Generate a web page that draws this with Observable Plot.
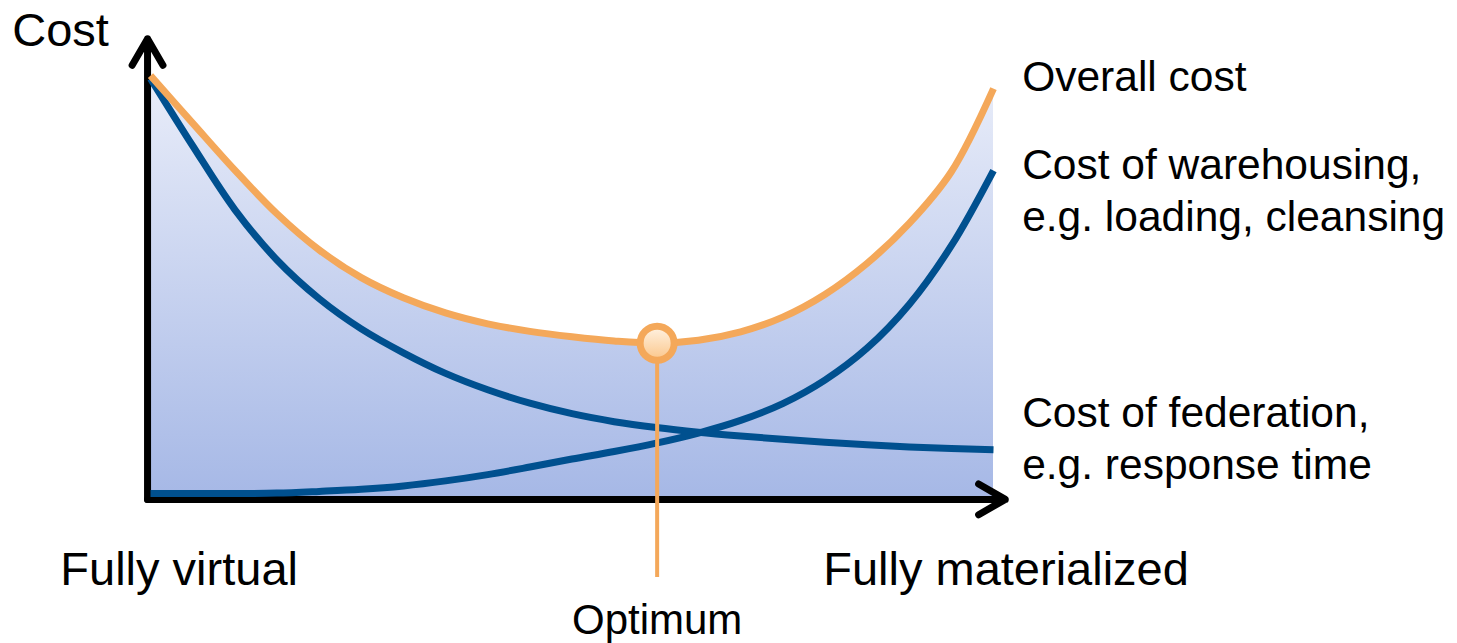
<!DOCTYPE html>
<html>
<head>
<meta charset="utf-8">
<script src="https://cdn.jsdelivr.net/npm/d3@7"></script>
<script src="https://cdn.jsdelivr.net/npm/@observablehq/plot@0.6"></script>
<style>
  html, body { margin: 0; padding: 0; background: #fff; }
  svg { display: block; }
</style>
</head>
<body>
<div id="chart"></div>
<script>
// Degree of materialization (0 = fully virtual, 100 = fully materialized)
const materialization = [0, 5, 10, 15, 20, 25, 30, 35, 40, 45, 50, 55, 60, 65, 70, 75, 80, 85, 90, 95, 100];
// Cost series (arbitrary units)
const overallCost     = [99.5, 88.2, 77.0, 66.6, 58.0, 51.4, 46.6, 43.0, 40.4, 38.6, 37.3, 36.3, 35.8, 36.5, 38.5, 42.0, 47.4, 54.8, 64.3, 76.6, 96.4];
const federationCost  = [98.8, 82.8, 67.6, 55.6, 46.4, 39.2, 33.5, 28.6, 24.7, 21.5, 19.0, 17.1, 15.7, 14.6, 13.7, 12.9, 12.2, 11.6, 11.1, 10.7, 10.4];
const warehousingCost = [0.0, 0.0, 0.0, 0.1, 0.5, 1.0, 1.8, 3.0, 4.5, 6.3, 8.2, 10.0, 12.0, 14.4, 17.4, 21.4, 27.0, 34.6, 45.0, 59.0, 76.9];

// Optimum point
const optimumX = [60.1];
const optimumY = [35.8];
const optimumDrop = [-20];

// Axes (arrow endpoints in data units)
const axisX1 = [-0.35, -0.35];
const axisY1 = [-1.4, -1.4];
const axisX2 = [-0.35, 101.4];
const axisY2 = [108.3, -1.4];

// Labels
const labelText = ["Cost", "Overall cost", "Cost of warehousing,", "e.g. loading, cleansing",
                   "Cost of federation,", "e.g. response time", "Fully virtual", "Fully materialized"];
const labelX = [-16.4, 103.4, 103.4, 103.4, 103.4, 103.4, -10.7, 79.8];
const labelY = [110.2, 99.0, 78.1, 65.7, 19.0, 6.7, -18.3, -18.3];
const labelSize = [47, 42.5, 42.5, 42.5, 42.5, 42.5, 47, 47];
const optimumLabel = ["Optimum"];
const optimumLabelY = [-30.2];

const rows = materialization.map((x, i) => ({
  x, overall: overallCost[i], federation: federationCost[i], warehousing: warehousingCost[i]
}));
const axes = axisX1.map((d, i) => ({x1: axisX1[i], y1: axisY1[i], x2: axisX2[i], y2: axisY2[i]}));
const labels = labelText.map((t, i) => ({t, x: labelX[i], y: labelY[i], s: labelSize[i]}));
const opt = [{x: optimumX[0], y: optimumY[0], yb: optimumDrop[0], label: optimumLabel[0], ly: optimumLabelY[0]}];

const defs = () => {
  const g = d3.create("svg:defs");
  const a = g.append("linearGradient").attr("id", "areaGrad").attr("x1", 0).attr("y1", 0).attr("x2", 0).attr("y2", 1);
  a.append("stop").attr("offset", "0%").attr("stop-color", "#e9edf9");
  a.append("stop").attr("offset", "100%").attr("stop-color", "#a6b8e6");
  const o = g.append("linearGradient").attr("id", "optGrad").attr("x1", 0).attr("y1", 0).attr("x2", 0).attr("y2", 1);
  o.append("stop").attr("offset", "0%").attr("stop-color", "#fff3e4");
  o.append("stop").attr("offset", "100%").attr("stop-color", "#fbc68a");
  return g.node();
};

const orange = "#f4a85a";
const blue = "#00508f";

const chart = Plot.plot({
  width: 1457,
  height: 643,
  margin: 0,
  x: {domain: [0, 100], range: [150, 993], axis: null},
  y: {domain: [0, 100], range: [493, 73], axis: null},
  style: {fontFamily: "'Liberation Sans', Arial, sans-serif", background: "white"},
  marks: [
    defs,
    Plot.areaY(rows, {x: "x", y1: -1, y2: "overall", curve: "catmull-rom", fill: "url(#areaGrad)"}),
    Plot.arrow(axes, {x1: "x1", y1: "y1", x2: "x2", y2: "y2", stroke: "black", strokeWidth: 7, headLength: 6.6, headAngle: 60}),
    Plot.line(rows, {x: "x", y: "warehousing", curve: "catmull-rom", stroke: blue, strokeWidth: 7, strokeLinecap: "butt"}),
    Plot.line(rows, {x: "x", y: "federation", curve: "catmull-rom", stroke: blue, strokeWidth: 7, strokeLinecap: "butt"}),
    Plot.line(rows, {x: "x", y: "overall", curve: "catmull-rom", stroke: orange, strokeWidth: 7, strokeLinecap: "butt"}),
    Plot.ruleX(opt, {x: "x", y1: "y", y2: "yb", stroke: orange, strokeWidth: 4}),
    Plot.dot(opt, {x: "x", y: "y", r: 17, stroke: orange, strokeWidth: 7, fill: "url(#optGrad)"}),
    Plot.text(labels, {x: "x", y: "y", text: "t", fontSize: "s", textAnchor: "start", fill: "black"}),
    Plot.text(opt, {x: "x", y: "ly", text: "label", fontSize: 42, textAnchor: "middle", fill: "black"})
  ]
});
document.getElementById("chart").appendChild(chart);
</script>
</body>
</html>
